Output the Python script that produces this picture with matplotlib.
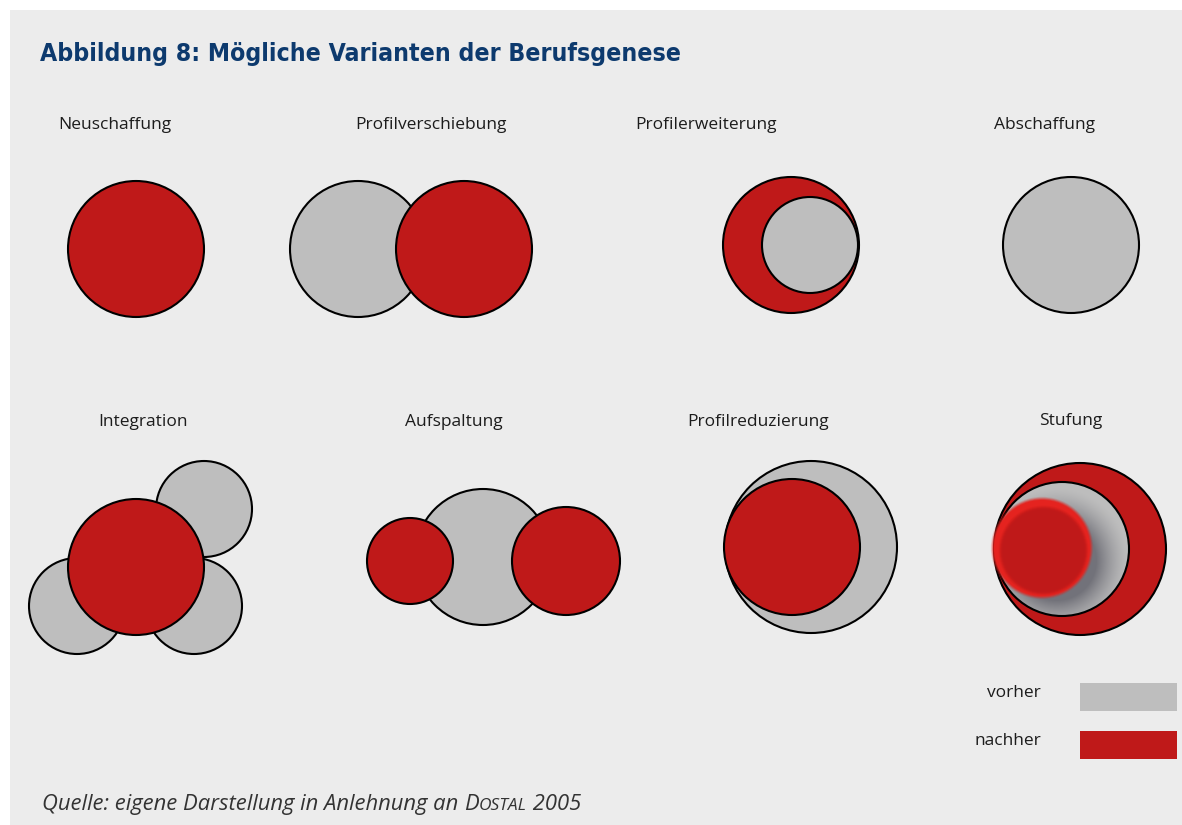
import numpy as np
import matplotlib.pyplot as plt
from matplotlib.patches import Circle, Rectangle

# colours
BG = '#ececec'
GRAY = '#bebebe'
RED = '#bf1919'
BLUE = '#0d3a6e'
INK = '#1c1c1c'

title = 'Abbildung 8: Mögliche Varianten der Berufsgenese'
source_parts = [('Quelle: eigene Darstellung in Anlehnung an ', 15.8),
                ('D', 15.8), ('OSTAL', 12.5), (' 2005', 15.8)]

# panel labels
panel_names = ['Neuschaffung', 'Profilverschiebung', 'Profilerweiterung', 'Abschaffung',
               'Integration', 'Aufspaltung', 'Profilreduzierung', 'Stufung']
label_x = [115, 431, 706, 1044, 143, 454, 758, 1071]
label_y = [125, 125, 125, 125, 422, 422, 422, 421]

# circles in drawing order: centre x, centre y, radius, state
circle_x = [136, 358, 464, 791, 810, 1071, 204, 77, 194, 136, 483, 410, 566, 811, 792]
circle_y = [249, 249, 249, 245, 245, 245, 509, 606, 606, 567, 557, 561, 561, 547, 547]
circle_r = [68, 68, 68, 68, 48, 68, 48, 48, 48, 68, 68, 43, 54, 86, 68]
circle_state = ['nachher', 'vorher', 'nachher', 'nachher', 'vorher', 'vorher',
                'vorher', 'vorher', 'vorher', 'nachher', 'vorher', 'nachher',
                'nachher', 'vorher', 'nachher']

# Stufung: outer (nachher), middle (vorher), inner (nachher, soft)
stuf_x = [1080, 1062, 1042]
stuf_y = [549, 549, 548]
stuf_r = [86, 67, 48]

legend_labels = ['vorher', 'nachher']

colors = {'vorher': GRAY, 'nachher': RED}

W, H = 1182, 825
fig = plt.figure(figsize=(W / 100, H / 100), dpi=100)
fig.patch.set_facecolor('white')
ax = fig.add_axes([0, 0, 1, 1])
ax.set_xlim(0, W)
ax.set_ylim(H, 0)
ax.axis('off')

ax.add_patch(Rectangle((10, 10), W - 10, H - 10, facecolor=BG, edgecolor='none', zorder=0))

ax.text(40, 54, title, fontsize=17.8, fontweight='bold', color=BLUE,
        family=['DejaVu Sans'], fontstretch='condensed', va='center', ha='left')

for name, x, y in zip(panel_names, label_x, label_y):
    ax.text(x, y, name, fontsize=12.5, color=INK, family=['Open Sans', 'DejaVu Sans'],
            ha='center', va='center')

for x, y, r, s in zip(circle_x, circle_y, circle_r, circle_state):
    ax.add_patch(Circle((x, y), r, facecolor=colors[s], edgecolor='black', lw=1.5, zorder=2))

# Stufung
outer = Circle((stuf_x[0], stuf_y[0]), stuf_r[0], facecolor=RED, edgecolor='black', lw=1.5, zorder=2)
ax.add_patch(outer)
mid = Circle((stuf_x[1], stuf_y[1]), stuf_r[1], facecolor=GRAY, edgecolor='none', zorder=3)
ax.add_patch(mid)
# shaded gray around the inner circle
gx, gy = np.meshgrid(np.arange(990, 1135), np.arange(478, 622))
d = np.hypot(gx - (stuf_x[2] + 14), gy - (stuf_y[2] + 12))
shade = np.clip((stuf_r[2] + 26 - d) / 34, 0, 1) ** 1.5
light = np.array([0.745, 0.745, 0.745])
dark = np.array([0.45, 0.45, 0.48])
img = light[None, None, :] * (1 - shade[..., None]) + dark[None, None, :] * shade[..., None]
im = ax.imshow(img, extent=(990, 1135, 622, 478), zorder=3.5, interpolation='bilinear')
im.set_clip_path(mid)
ax.add_patch(Circle((stuf_x[1], stuf_y[1]), stuf_r[1], facecolor='none', edgecolor='black', lw=1.5, zorder=4))
# inner soft red disc
for k, a in zip([4, 3, 2, 1, 0], [0.15, 0.25, 0.4, 0.6, 1.0]):
    ax.add_patch(Circle((stuf_x[2], stuf_y[2]), stuf_r[2] + k * 0.8, facecolor='#e5231f',
                        edgecolor='none', alpha=a, zorder=5))
for k, a in zip(range(6), [0.2, 0.3, 0.45, 0.6, 0.8, 1.0]):
    ax.add_patch(Circle((stuf_x[2] + 1.5, stuf_y[2] + 2.5), stuf_r[2] - 3 - k * 1.0,
                        facecolor=RED, edgecolor='none', alpha=a, zorder=6))

# legend
for i, lab in enumerate(legend_labels):
    y0 = 683 + i * 48
    ax.add_patch(Rectangle((1080, y0), 97, 28, facecolor=colors[lab], edgecolor='none', zorder=2))
    ax.text(1041, y0 + 10, lab, fontsize=12.5, color=INK, family=['Open Sans', 'DejaVu Sans'],
            ha='right', va='center')

# source line with small caps
fig.canvas.draw()
renderer = fig.canvas.get_renderer()
x = 42
for txt, fs in source_parts:
    t = ax.text(x, 810, txt, fontsize=fs, style='italic', color='#333333',
                family=['Open Sans', 'DejaVu Sans'], ha='left', va='baseline')
    bb = t.get_window_extent(renderer=renderer)
    x += bb.width

fig.savefig('out.png', dpi=100, facecolor='white')
